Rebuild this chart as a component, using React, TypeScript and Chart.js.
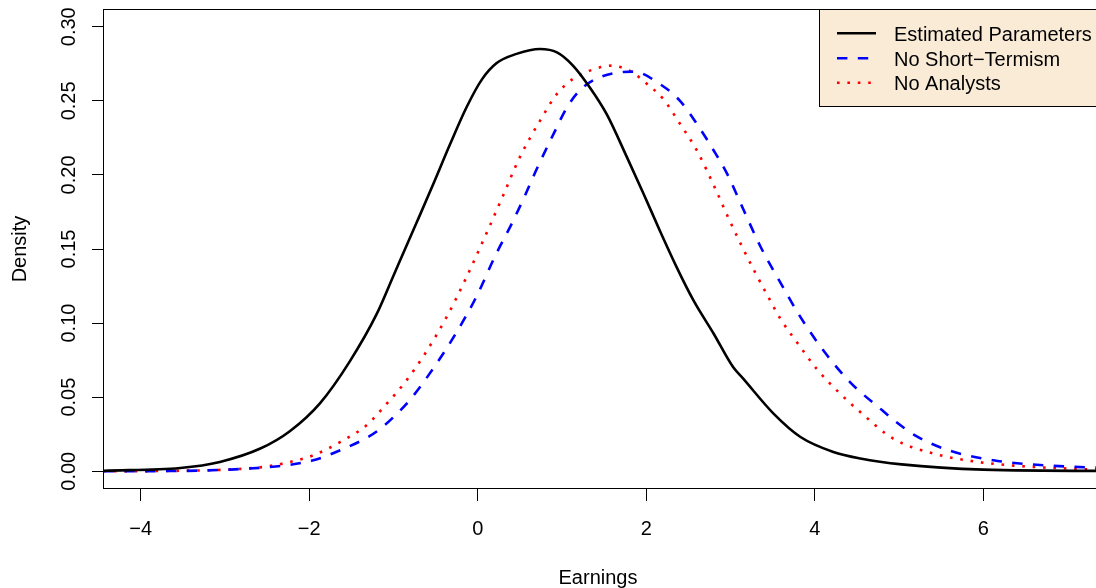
import React, { useEffect, useRef } from "react";
import { Chart, registerables } from "chart.js";
Chart.register(...registerables);

const estX = [-4.44, -3.53, -3.06, -2.58, -2.23, -1.87, -1.52, -1.2, -1.0, -0.72, -0.53, -0.33, -0.13, 0.05, 0.225, 0.46, 0.74, 0.94, 1.13, 1.33, 1.53, 1.77, 1.97, 2.16, 2.36, 2.56, 2.8, 3.03, 3.15, 3.51, 3.83, 4.22, 4.54, 5.03, 6.0, 7.8];
const estY = [0.0003, 0.0022, 0.0063, 0.0153, 0.027, 0.046, 0.074, 0.106, 0.132, 0.1685, 0.1935, 0.2205, 0.246, 0.2645, 0.2755, 0.2817, 0.285, 0.2827, 0.2738, 0.259, 0.241, 0.212, 0.187, 0.1625, 0.1378, 0.1153, 0.0928, 0.0703, 0.0625, 0.0389, 0.0231, 0.013, 0.0086, 0.0046, 0.0011, 0.0001];

const nstX = [-4.44, -3.53, -2.94, -2.54, -2.27, -1.95, -1.63, -1.32, -1.16, -1.0, -0.8, -0.53, -0.25, -0.01, 0.2, 0.42, 0.56, 0.7, 0.9, 1.06, 1.21, 1.45, 1.85, 2.16, 2.4, 2.6, 2.8, 2.96, 3.15, 3.35, 3.59, 3.83, 4.1, 4.42, 4.8, 4.97, 5.21, 5.61, 6.12, 6.59, 7.35, 7.8];
const nstY = [0.0, 0.0002, 0.0011, 0.0025, 0.004, 0.0074, 0.0142, 0.0225, 0.0285, 0.0365, 0.0485, 0.0692, 0.0939, 0.1185, 0.1445, 0.169, 0.186, 0.204, 0.2277, 0.2457, 0.257, 0.266, 0.2697, 0.2614, 0.25, 0.2345, 0.2165, 0.2007, 0.177, 0.1522, 0.1275, 0.104, 0.0816, 0.06, 0.0411, 0.033, 0.0235, 0.0137, 0.0074, 0.0045, 0.0024, 0.0018];

const naX = [-4.44, -3.53, -2.94, -2.54, -2.31, -1.95, -1.63, -1.32, -1.08, -0.87, -0.625, -0.37, -0.15, 0.11, 0.3, 0.5, 0.74, 0.94, 1.13, 1.33, 1.59, 1.81, 2.01, 2.2, 2.4, 2.6, 2.82, 2.97, 3.13, 3.29, 3.47, 3.59, 3.8, 4.02, 4.28, 4.56, 4.93, 5.41, 5.88, 6.36, 6.99, 7.35, 7.8];
const naY = [0.0, 0.0003, 0.0012, 0.0029, 0.0052, 0.0108, 0.0198, 0.031, 0.0456, 0.0595, 0.0794, 0.104, 0.129, 0.1614, 0.186, 0.212, 0.2367, 0.2547, 0.2648, 0.2704, 0.2738, 0.27, 0.2614, 0.2513, 0.2345, 0.2165, 0.1906, 0.1715, 0.1524, 0.1344, 0.1153, 0.103, 0.0861, 0.0692, 0.0535, 0.0389, 0.022, 0.0119, 0.0067, 0.0038, 0.0018, 0.0011, 0.0008];

const yTicks = [0, 0.05, 0.1, 0.15, 0.2, 0.25, 0.3];
const seriesLabels = ["Estimated Parameters", "No Short\u2212Termism", "No Analysts"];
const seriesColors = ["#000000", "#0000FF", "#FF0000"];
const xTitle = "Earnings";
const yTitle = "Density";

const FONT = '"Liberation Sans", Arial, Helvetica, sans-serif';
const LW = 2.6;
const dashes: number[][] = [[], [10.4, 10.4], [2.6, 7.8]];

const CANVAS_W = 1130;
const CANVAS_H = 588;

const fmtX = (v: number) => (v < 0 ? "\u2212" + Math.abs(v) : String(v));

const decoPlugin = {
  id: "rdeco",
  afterDraw(chart: any) {
    const { ctx, chartArea } = chart;
    const { left, top, right, bottom } = chartArea;
    const ys = chart.scales.y;
    ctx.save();
    // box
    ctx.strokeStyle = "#000";
    ctx.lineWidth = 1;
    ctx.setLineDash([]);
    ctx.strokeRect(left - 0.5, top + 0.5, right - left + 1, bottom - top - 1);
    // y tick labels (rotated)
    ctx.fillStyle = "#000";
    ctx.font = `20px ${FONT}`;
    yTicks.forEach((v) => {
      const py = ys.getPixelForValue(v);
      ctx.save();
      ctx.translate(75, py);
      ctx.rotate(-Math.PI / 2);
      ctx.textAlign = "center";
      ctx.textBaseline = "alphabetic";
      ctx.fillText(v.toFixed(2), 0, 0);
      ctx.restore();
    });
    // y title
    ctx.save();
    ctx.translate(26, (top + bottom) / 2);
    ctx.rotate(-Math.PI / 2);
    ctx.textAlign = "center";
    ctx.textBaseline = "alphabetic";
    ctx.fillText(yTitle, 0, 0);
    ctx.restore();
    // x title
    ctx.textAlign = "center";
    ctx.textBaseline = "alphabetic";
    ctx.fillText(xTitle, 598, 584);
    // legend
    const lx = 819.5;
    const ly = 9.5;
    ctx.fillStyle = "#FAEBD7";
    ctx.fillRect(lx, ly, 400, 97);
    ctx.strokeStyle = "#000";
    ctx.lineWidth = 1;
    ctx.strokeRect(lx, ly, 400, 97);
    const rows = [33.3, 58.3, 82.7];
    seriesLabels.forEach((lab, i) => {
      ctx.save();
      ctx.strokeStyle = seriesColors[i];
      ctx.lineWidth = LW;
      ctx.lineCap = "butt";
      ctx.setLineDash(dashes[i]);
      ctx.beginPath();
      ctx.moveTo(837, rows[i]);
      ctx.lineTo(876, rows[i]);
      ctx.stroke();
      ctx.restore();
      ctx.fillStyle = "#000";
      ctx.textAlign = "left";
      ctx.textBaseline = "alphabetic";
      ctx.fillText(lab, 894, rows[i] + 7.2);
    });
    ctx.restore();
  },
};

export default function App() {
  const ref = useRef<HTMLCanvasElement | null>(null);
  useEffect(() => {
    if (!ref.current) return;
    const mk = (xs: number[], ys: number[]) => xs.map((x, i) => ({ x, y: ys[i] }));
    const series = [mk(estX, estY), mk(nstX, nstY), mk(naX, naY)];
    const chart = new Chart(ref.current, {
      type: "line",
      data: {
        datasets: series.map((d, i) => ({
          label: seriesLabels[i],
          data: d,
          borderColor: seriesColors[i],
          borderWidth: LW,
          borderDash: dashes[i],
          borderCapStyle: "butt",
          pointRadius: 0,
          fill: false,
          cubicInterpolationMode: "monotone",
        })),
      },
      options: {
        animation: false,
        responsive: false,
        devicePixelRatio: 1,
        layout: { padding: { top: 9, left: 0, right: 0, bottom: 0 } },
        plugins: { legend: { display: false }, tooltip: { enabled: false } },
        scales: {
          x: {
            type: "linear",
            min: -4.435,
            max: 7.74,
            afterFit: (s: any) => {
              s.height = 99;
            },
            border: { display: false },
            grid: { display: true, drawOnChartArea: false, drawTicks: true, tickLength: 12, color: "#000", lineWidth: 1 },
            ticks: {
              stepSize: 2,
              includeBounds: false,
              autoSkip: false,
              maxRotation: 0,
              color: "#000",
              padding: 16,
              font: { family: FONT, size: 20 },
              callback: (v: any) => fmtX(Number(v)),
            },
          },
          y: {
            type: "linear",
            min: -0.012,
            max: 0.312,
            afterFit: (s: any) => {
              s.width = 104;
            },
            border: { display: false },
            grid: { display: true, drawOnChartArea: false, drawTicks: true, tickLength: 12, color: "#000", lineWidth: 1 },
            afterBuildTicks: (s: any) => {
              s.ticks = yTicks.map((v) => ({ value: v }));
            },
            ticks: { display: false },
          },
        },
      },
      plugins: [decoPlugin],
    } as any);
    return () => chart.destroy();
  }, []);
  return (
    <div style={{ position: "fixed", left: 0, top: 0, width: 1096, height: 588, overflow: "hidden", background: "#fff" }}>
      <canvas ref={ref} width={CANVAS_W} height={CANVAS_H} style={{ display: "block", width: CANVAS_W, height: CANVAS_H }} />
    </div>
  );
}
